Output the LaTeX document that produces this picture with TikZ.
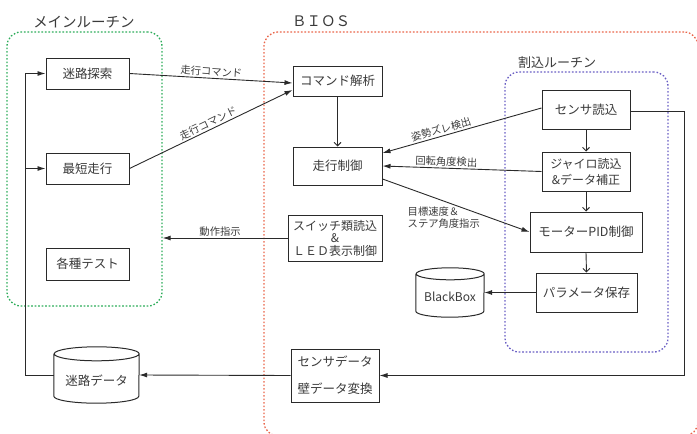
\documentclass[tikz,border=0pt]{standalone}
\usepackage{fontspec}
\setmainfont{Noto Sans CJK JP}
\usetikzlibrary{arrows.meta}
\definecolor{grpgreen}{HTML}{2EAD5B}
\definecolor{grpred}{HTML}{E9654A}
\definecolor{grpblue}{HTML}{6A5FC4}
\definecolor{boxc}{HTML}{2A2A2A}
\definecolor{txtc}{HTML}{3A3A3A}
\begin{document}
\begin{tikzpicture}[x=1pt,y=-1pt,
  box/.style={draw=boxc, line width=1pt, fill=white, inner sep=0pt, align=center,
    font=\fontsize{12.5}{14}\selectfont, text=txtc},
  arr/.style={draw=boxc, line width=0.9pt, -{Latex[length=8pt,width=5pt]}},
  varr/.style={draw=boxc, line width=0.9pt, -{Straight Barb[length=3.5pt,width=7pt]}},
  conn/.style={draw=boxc, line width=0.9pt},
  lbl/.style={font=\fontsize{10.3}{11}\selectfont, text=txtc, inner sep=1.5pt},
  grp/.style={line width=1.3pt, dash pattern=on 1.6pt off 1.9pt, rounded corners=14pt, inner sep=0pt},
  ttl/.style={font=\fontsize{14.5}{16}\selectfont, text=txtc, inner sep=0pt},
  cyltext/.style={font=\fontsize{12.5}{14}\selectfont, text=txtc, inner sep=0pt}
]
\useasboundingbox (0,0) rectangle (697,434);
\clip (0,0) rectangle (697,434);

% groups
\node[grp, draw=grpgreen, minimum width=155pt, minimum height=274pt] (maingrp) at (84.5,169) {};
\node[grp, draw=grpred, minimum width=434pt, minimum height=404pt] (biosgrp) at (481,234) {};
\node[grp, draw=grpblue, minimum width=163pt, minimum height=280pt] (intgrp) at (586.5,212) {};

% titles
\node[ttl] (t1) at (84,22) {メインルーチン};
\node[ttl] (t2) at (321,21) {ＢＩＯＳ};
\node[ttl, font=\fontsize{13}{15}\selectfont] (t3) at (557,62.5) {割込ルーチン};

% main routine boxes
\node[box, minimum width=83pt, minimum height=31pt] (search) at (87.5,73.5) {迷路探索};
\node[box, minimum width=83pt, minimum height=31pt] (short) at (87.5,168.5) {最短走行};
\node[box, minimum width=83pt, minimum height=32pt] (test) at (87.5,264) {各種テスト};

% BIOS boxes
\node[box, minimum width=89pt, minimum height=30pt] (cmd) at (337.5,81) {コマンド解析};
\node[box, minimum width=89pt, minimum height=38pt] (drive) at (337.5,166) {走行制御};
\node[box, minimum width=94pt, minimum height=46pt, font=\fontsize{12}{12.5}\selectfont] (switch) at (335,238) {スイッチ類読込\\\&\\ＬＥＤ表示制御};
\node[box, minimum width=88pt, minimum height=53pt, font=\fontsize{12.5}{27}\selectfont] (wall) at (335,375.5) {センサデータ\\壁データ変換};

% interrupt boxes
\node[box, minimum width=88pt, minimum height=39pt] (sensor) at (586,109.5) {センサ読込};
\node[box, minimum width=88pt, minimum height=39pt, font=\fontsize{12}{16}\selectfont] (gyro) at (586,171.5) {ジャイロ読込\\\&データ補正};
\node[box, minimum width=112pt, minimum height=40pt] (pid) at (586,232) {モーターPID制御};
\node[box, minimum width=101pt, minimum height=39pt] (param) at (586.5,292.5) {パラメータ保存};

% cylinders
\node[inner sep=0pt, minimum width=85pt, minimum height=56pt] (maze) at (96.5,375) {};
\draw[conn, line width=1pt, fill=white] ([yshift=-7pt]maze.north west) -- ([yshift=7pt]maze.south west)
  arc[start angle=180, end angle=360, x radius=42.5pt, y radius=7pt]
  -- ([yshift=-7pt]maze.north east)
  arc[start angle=0, end angle=180, x radius=42.5pt, y radius=7pt]
  arc[start angle=180, end angle=360, x radius=42.5pt, y radius=7pt];
\node[cyltext] (mazetxt) at ([yshift=-6pt]maze.center) {迷路データ};

\node[inner sep=0pt, minimum width=68pt, minimum height=49pt] (bbox) at (450,292.5) {};
\draw[conn, line width=1pt, fill=white] ([yshift=-6pt]bbox.north west) -- ([yshift=6pt]bbox.south west)
  arc[start angle=180, end angle=360, x radius=34pt, y radius=6pt]
  -- ([yshift=-6pt]bbox.north east)
  arc[start angle=0, end angle=180, x radius=34pt, y radius=6pt]
  arc[start angle=180, end angle=360, x radius=34pt, y radius=6pt];
\node[cyltext, font=\fontsize{12}{14}\selectfont] (bboxtxt) at ([yshift=-4.5pt]bbox.center) {BlackBox};

% helper coordinates
\coordinate (leftX) at (25,0);
\coordinate (rightX) at (684,0);
\coordinate (sensE) at ([yshift=-2pt]sensor.east);

% main loop on the left
\draw[conn] (maze.west) -- (leftX |- maze.west) -- (leftX |- search.west);
\draw[arr] (leftX |- search.west) -- (search.west);
\draw[arr] (leftX |- short.west) -- (short.west);

% commands
\draw[arr] (search.east) -- node[lbl, sloped, above] {走行コマンド} ([yshift=-2pt]cmd.west);
\draw[arr] (short.east) -- node[lbl, sloped, above] {走行コマンド} ([yshift=-9pt]cmd.west);
\draw[varr] (cmd.south) -- (drive.north);

% interrupt to drive
\draw[arr] ([yshift=1.5pt]sensor.west) -- node[lbl, sloped, above, pos=0.62] {姿勢ズレ検出} ([yshift=13pt]drive.east);
\draw[arr] (gyro.west) -- node[lbl, sloped, above, pos=0.6] {回転角度検出} (drive.east);
\draw[arr] ([yshift=-13pt]drive.east) -- (pid.west);
\node[lbl, align=left, anchor=north west, font=\fontsize{10.3}{12}\selectfont] (tgtlbl) at (406,205) {目標速度＆\\ステア角度指示};

% interrupt chain
\draw[varr] (sensor.south) -- (gyro.north);
\draw[varr] (gyro.south) -- (pid.north);
\draw[varr] (pid.south) -- (param.north);
\draw[arr] (param.west) -- (bbox.east);

% sensor to wall conversion
\draw[conn] (sensE) -- (rightX |- sensE) -- (rightX |- wall.east);
\draw[arr] (rightX |- wall.east) -- (wall.east);
\draw[arr] (wall.west) -- (maze.east);

% switch to main routine
\draw[arr] (switch.west) -- node[lbl, above, pos=0.54] {動作指示} (maingrp.east |- switch.west);
\end{tikzpicture}
\end{document}
